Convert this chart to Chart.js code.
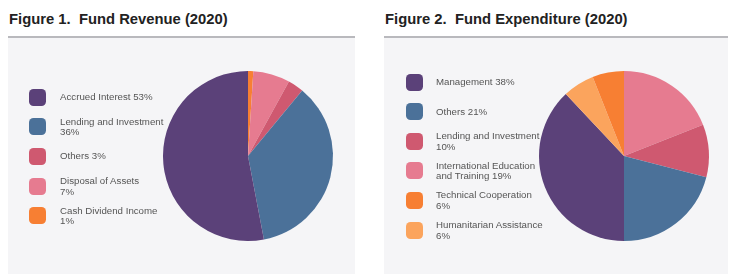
<!DOCTYPE html>
<html>
<head>
<meta charset="utf-8">
<script src="https://cdn.jsdelivr.net/npm/chart.js@4/dist/chart.umd.min.js"></script>
<style>
  html, body { margin: 0; padding: 0; background: #ffffff; width: 734px; height: 274px; overflow: hidden; }
  body { position: relative; font-family: "Liberation Sans", Arial, Helvetica, sans-serif; }
  .title { position: absolute; top: 10.5px; font-weight: bold; font-size: 14.8px; color: #222; white-space: pre; }
  .rule { position: absolute; top: 36px; height: 0; border-top: 2px solid #b9b9bd; }
  .panel { position: absolute; top: 38px; height: 236px; background: #f5f5f7; }
  .panel canvas { position: absolute; left: 0; top: 0; }
  .item { position: absolute; height: 0; }
  .sw { position: absolute; width: 17px; height: 17px; border-radius: 4.5px; top: -8.5px; }
  .txt { position: absolute; font-size: 9.7px; line-height: 10.5px; color: #555; white-space: pre; transform: translateY(-50%); top: 0; }
</style>
</head>
<body>
<div class="title" style="left:9px">Figure 1.  Fund Revenue (2020)</div>
<div class="title" style="left:385px">Figure 2.  Fund Expenditure (2020)</div>
<div class="rule" style="left:8px;width:347px"></div>
<div class="rule" style="left:384px;width:344px"></div>
<div class="panel" id="p1" style="left:8px;width:347px"><canvas id="c1" width="347" height="236"></canvas></div>
<div class="panel" id="p2" style="left:384px;width:344px"><canvas id="c2" width="344" height="236"></canvas></div>
<script>
// Figure 1 — slices in clockwise order from 12 o'clock
const revenueLabels = ['Cash Dividend Income', 'Disposal of Assets', 'Others', 'Lending and Investment', 'Accrued Interest'];
const revenueValues = [1, 7, 3, 36, 53];
const revenueColors = ['#f77f33', '#e67b90', '#cf5970', '#4b7199', '#5b4179'];
// legend order and text as printed
const revenueLegendOrder = [4, 3, 2, 1, 0];
const revenueLegendText = ['Accrued Interest 53%', 'Lending and Investment\n36%', 'Others 3%', 'Disposal of Assets\n7%', 'Cash Dividend Income\n1%'];

// Figure 2 — slices in clockwise order from 12 o'clock
const expenditureLabels = ['International Education and Training', 'Lending and Investment', 'Others', 'Management', 'Humanitarian Assistance', 'Technical Cooperation'];
const expenditureValues = [19, 10, 21, 38, 6, 6];
const expenditureColors = ['#e67b90', '#cf5970', '#4b7199', '#5b4179', '#fba45d', '#f77f33'];
const expenditureLegendOrder = [3, 2, 1, 0, 5, 4];
const expenditureLegendText = ['Management 38%', 'Others 21%', 'Lending and Investment\n10%', 'International Education\nand Training 19%', 'Technical Cooperation\n6%', 'Humanitarian Assistance\n6%'];

function makePie(canvasId, labels, values, colors, pad) {
  return new Chart(document.getElementById(canvasId), {
    type: 'pie',
    data: { labels: labels, datasets: [{ data: values, backgroundColor: colors, borderWidth: 0 }] },
    options: {
      responsive: false,
      animation: false,
      layout: { padding: pad },
      plugins: { legend: { display: false }, tooltip: { enabled: false } }
    }
  });
}

function makeLegend(panelId, chart, order, texts, swLeft, txtLeft, y0, step) {
  const panel = document.getElementById(panelId);
  const ds = chart.data.datasets[0];
  order.forEach((idx, i) => {
    const item = document.createElement('div');
    item.className = 'item';
    item.style.top = (y0 + i * step) + 'px';
    item.style.left = '0px';
    const sw = document.createElement('div');
    sw.className = 'sw';
    sw.style.left = swLeft + 'px';
    sw.style.background = ds.backgroundColor[idx];
    const tx = document.createElement('div');
    tx.className = 'txt';
    tx.style.left = txtLeft + 'px';
    tx.textContent = texts[i];
    item.appendChild(sw);
    item.appendChild(tx);
    panel.appendChild(item);
  });
}

const ch1 = makePie('c1', revenueLabels, revenueValues, revenueColors, { left: 155, right: 22, top: 33, bottom: 33 });
const ch2 = makePie('c2', expenditureLabels, expenditureValues, expenditureColors, { left: 155, right: 19, top: 33, bottom: 33 });
makeLegend('p1', ch1, revenueLegendOrder, revenueLegendText, 21, 52, 59, 29.7);
makeLegend('p2', ch2, expenditureLegendOrder, expenditureLegendText, 22, 52, 44, 29.6);
</script>
</body>
</html>
